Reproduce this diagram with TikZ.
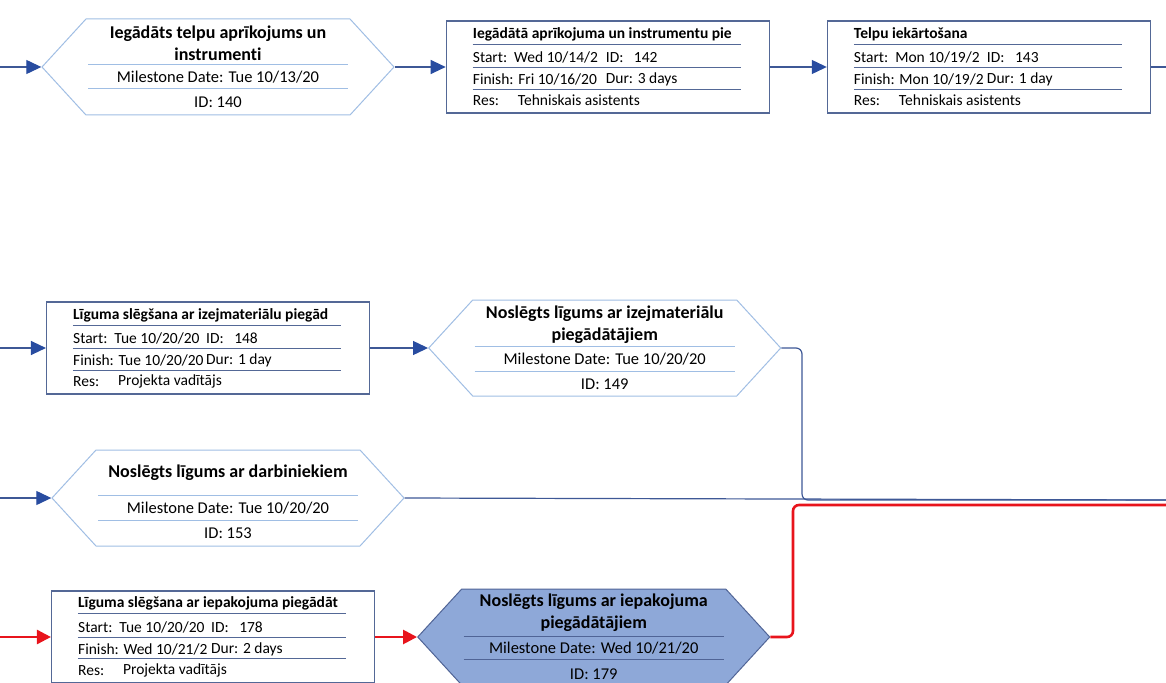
\documentclass[tikz,border=0pt]{standalone}
\usepackage{fontspec}
\setmainfont{Carlito}[Ligatures=NoCommon]
\usepackage{tikz}
\usetikzlibrary{shapes.symbols,arrows.meta,positioning,calc}

\definecolor{taskline}{RGB}{84,104,150}
\definecolor{mileline}{RGB}{160,190,228}
\definecolor{critfill}{RGB}{142,168,216}
\definecolor{critline}{RGB}{80,100,150}
\definecolor{linkblue}{RGB}{62,88,150}
\definecolor{arrowblue}{RGB}{40,76,160}
\definecolor{critred}{RGB}{232,20,28}

\begin{document}
\begin{tikzpicture}[x=1pt, y=-1pt,
  task/.style={rectangle, draw=taskline, line width=1.1pt, fill=white,
    minimum width=323pt, minimum height=92pt, inner sep=0},
  mile/.style={signal, signal to=west and east, signal pointer angle=95,
    draw=mileline, line width=1pt, fill=white,
    minimum width=352pt, minimum height=96pt, inner sep=0},
  critmile/.style={mile, draw=critline, fill=critfill},
  row/.style={anchor=west, inner sep=0, font=\fontsize{15.5}{18}\selectfont},
  rowhead/.style={row, font=\fontsize{15.5}{18}\selectfont\bfseries},
  mtext/.style={inner sep=0, align=center, font=\fontsize{16.5}{21}\selectfont},
  mhead/.style={mtext, font=\fontsize{18}{22}\selectfont\bfseries},
  tsep/.style={draw=taskline, line width=1pt},
  msep/.style={draw=mileline, line width=1pt},
  csep/.style={draw=critline, line width=1pt},
  wire/.style={draw=linkblue, line width=1.2pt},
  link/.style={wire, -{Triangle[length=15pt, width=14pt, color=arrowblue]}},
  critwire/.style={draw=critred, line width=2.6pt},
  critlink/.style={critwire, -{Triangle[length=14pt, width=14pt]}},
]
\useasboundingbox (0,0) rectangle (1166,682);

% top row
\node[mile] (m140) at (218,67) {};
\node[mhead] (m140t) at ($(m140)+(0,-24)$) {Iegādāts telpu aprīkojums un\\instrumenti};
\node[mtext] (m140d) at ($(m140)+(0,10)$) {Milestone Date: Tue 10/13/20};
\node[mtext] (m140i) at ($(m140)+(0,35)$) {ID: 140};
\draw[msep] ($(m140)+(-130,-2)$) -- ($(m140)+(130,-2)$);
\draw[msep] ($(m140)+(-130,22)$) -- ($(m140)+(130,22)$);

\node[task, right=51pt of m140] (t142) {};
\node[rowhead] (t142t) at ($(t142.north west)+(27,14)$) {Iegādātā aprīkojuma un instrumentu pie};
\node[row] (t142s) at ($(t142.north west)+(27,37)$) {Start:\ \ Wed 10/14/2};
\node[row] (t142i) at ($(t142.north west)+(160,37)$) {ID:\ \ \ 142};
\node[row] (t142f) at ($(t142.north west)+(27,59)$) {Finish: Fri 10/16/20};
\node[row] (t142d) at ($(t142.north west)+(160,59)$) {Dur: 3 days};
\node[row] (t142r) at ($(t142.north west)+(27,80)$) {Res:};
\node[row] (t142n) at ($(t142.north west)+(72,80)$) {Tehniskais asistents};
\foreach \dy in {24,47,69}
  \draw[tsep] ($(t142.north west)+(27,\dy)$) -- ++(268,0);

\node[task, right=57pt of t142] (t143) {};
\node[rowhead] (t143t) at ($(t143.north west)+(27,14)$) {Telpu iekārtošana};
\node[row] (t143s) at ($(t143.north west)+(27,37)$) {Start:\ \ Mon 10/19/2};
\node[row] (t143i) at ($(t143.north west)+(160,37)$) {ID:\ \ \ 143};
\node[row] (t143f) at ($(t143.north west)+(27,59)$) {Finish: Mon 10/19/2};
\node[row] (t143d) at ($(t143.north west)+(160,59)$) {Dur: 1 day};
\node[row] (t143r) at ($(t143.north west)+(27,80)$) {Res:};
\node[row] (t143n) at ($(t143.north west)+(72,80)$) {Tehniskais asistents};
\foreach \dy in {24,47,69}
  \draw[tsep] ($(t143.north west)+(27,\dy)$) -- ++(268,0);

% middle rows
\node[task] (t148) at (208,348) {};
\node[rowhead] (t148t) at ($(t148.north west)+(27,14)$) {Līguma slēgšana ar izejmateriālu piegād};
\node[row] (t148s) at ($(t148.north west)+(27,37)$) {Start:\ \ Tue 10/20/20};
\node[row] (t148i) at ($(t148.north west)+(160,37)$) {ID:\ \ \ 148};
\node[row] (t148f) at ($(t148.north west)+(27,59)$) {Finish: Tue 10/20/20};
\node[row] (t148d) at ($(t148.north west)+(160,59)$) {Dur: 1 day};
\node[row] (t148r) at ($(t148.north west)+(27,80)$) {Res:};
\node[row] (t148n) at ($(t148.north west)+(72,80)$) {Projekta vadītājs};
\foreach \dy in {24,47,69}
  \draw[tsep] ($(t148.north west)+(27,\dy)$) -- ++(268,0);

\node[mile, right=58pt of t148] (m149) {};
\node[mhead] (m149t) at ($(m149)+(0,-23)$) {Noslēgts līgums ar izejmateriālu\\piegādātājiem};
\node[mtext] (m149d) at ($(m149)+(0,11)$) {Milestone Date: Tue 10/20/20};
\node[mtext] (m149i) at ($(m149)+(0,36)$) {ID: 149};
\draw[msep] ($(m149)+(-130,-2)$) -- ($(m149)+(130,-2)$);
\draw[msep] ($(m149)+(-130,23)$) -- ($(m149)+(130,23)$);

\node[mile] (m153) at (228,498) {};
\node[mhead] (m153t) at ($(m153)+(0,-25)$) {Noslēgts līgums ar darbiniekiem};
\node[mtext] (m153d) at ($(m153)+(0,10)$) {Milestone Date: Tue 10/20/20};
\node[mtext] (m153i) at ($(m153)+(0,35)$) {ID: 153};
\draw[msep] ($(m153)+(-130,-3)$) -- ($(m153)+(130,-3)$);
\draw[msep] ($(m153)+(-130,22)$) -- ($(m153)+(130,22)$);

% bottom row, critical
\node[task] (t178) at (213,637) {};
\node[rowhead] (t178t) at ($(t178.north west)+(27,13)$) {Līguma slēgšana ar iepakojuma piegādāt};
\node[row] (t178s) at ($(t178.north west)+(27,37)$) {Start:\ \ Tue 10/20/20};
\node[row] (t178i) at ($(t178.north west)+(160,37)$) {ID:\ \ \ 178};
\node[row] (t178f) at ($(t178.north west)+(27,59)$) {Finish: Wed 10/21/2};
\node[row] (t178d) at ($(t178.north west)+(160,59)$) {Dur: 2 days};
\node[row] (t178r) at ($(t178.north west)+(27,80)$) {Res:};
\node[row] (t178n) at ($(t178.north west)+(72,80)$) {Projekta vadītājs};
\foreach \dy in {23,47,68}
  \draw[tsep] ($(t178.north west)+(27,\dy)$) -- ++(268,0);

\node[critmile, right=42pt of t178] (m179) {};
\node[mhead] (m179t) at ($(m179)+(0,-24)$) {Noslēgts līgums ar iepakojuma\\piegādātājiem};
\node[mtext] (m179d) at ($(m179)+(0,11)$) {Milestone Date: Wed 10/21/20};
\node[mtext] (m179i) at ($(m179)+(0,37)$) {ID: 179};
\draw[csep] ($(m179)+(-130,-1)$) -- ($(m179)+(130,-1)$);
\draw[csep] ($(m179)+(-130,22)$) -- ($(m179)+(130,22)$);

% links
\coordinate (in140) at (0,67);
\coordinate (out143) at (1166,67);
\coordinate (in148) at (0,348);
\coordinate (in153) at (0,498);
\coordinate (j149) at (802,500);
\coordinate (out153) at (1166,500);
\coordinate (in178) at (0,637);
\coordinate (j179) at (793,505);
\coordinate (out179) at (1166,505);

\draw[link] (in140) -- (m140.west);
\draw[link] (m140.east) -- (t142.west);
\draw[link] (t142) -- (t143);
\draw[wire] (t143) -- (out143);
\draw[link] (in148) -- (t148);
\draw[link] (t148) -- (m149.west);
\draw[wire, rounded corners=6pt] (m149.east) -| (j149) -- (out153);
\draw[link] (in153) -- (m153.west);
\draw[wire] (m153.east) -- (out153);
\draw[critlink] (in178) -- (t178);
\draw[critlink] (t178) -- (m179.west);
\draw[critwire, rounded corners=6pt] (m179.east) -| (j179) -- (out179);
\end{tikzpicture}
\end{document}
